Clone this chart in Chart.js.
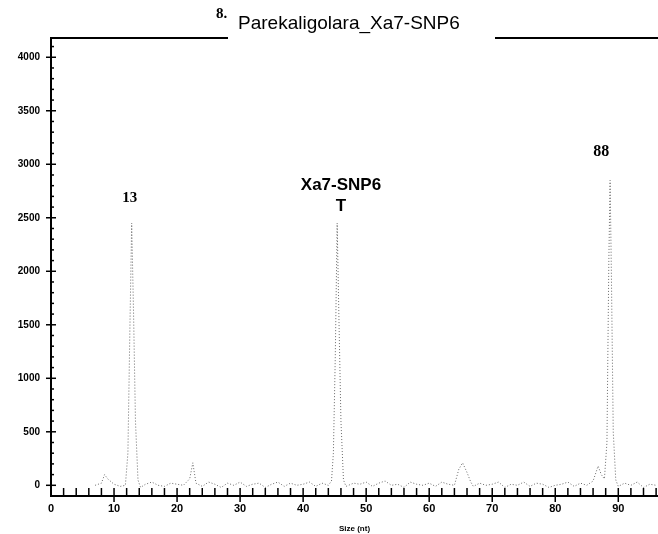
<!DOCTYPE html>
<html><head><meta charset="utf-8">
<script src="https://cdn.jsdelivr.net/npm/chart.js@4.4.0/dist/chart.umd.min.js"></script>
<style>html,body{margin:0;padding:0;background:#fff}#wrap{width:658px;height:534px;position:relative}</style>
</head><body><div id="wrap"><canvas id="c" width="658" height="534"></canvas></div>
<script>
const chartTitle = "Parekaligolara_Xa7-SNP6";
const laneLabel = "8.";
const xTitle = "Size (nt)";
const sizes = [7,8,8.5,9,10,11,11.8,12.2,12.5,12.8,13.1,13.4,13.8,14.2,15,16,17,18,19,20,21,22,22.5,23,24,25,26,27,28,29,30,31,32,33,34,35,36,37,38,39,40,41,42,43,44,44.5,44.8,45.1,45.4,45.7,46.0,46.4,46.8,48,49,50,51,52,53,54,55,56,57,58,59,60,61,62,63,64,64.7,65.3,66,66.6,67,68,69,70,71,72,73,74,75,76,77,78,79,80,81,82,83,84,85,86,86.8,87.3,87.8,88.2,88.5,88.7,88.9,89.2,89.6,90,91,92,93,94,95,96];
const rfu =   [0,20,100,60,10,-10,0,300,1400,2450,1600,600,50,-20,10,30,0,-10,20,10,0,60,210,20,-10,30,10,-20,20,0,30,-10,10,20,-20,10,30,-10,20,0,10,30,-10,20,0,40,300,1200,2450,1500,600,50,-10,20,10,30,-10,20,40,0,10,-20,30,10,0,20,-10,30,10,0,150,210,120,30,-10,20,0,10,30,-20,10,0,30,-10,20,10,-20,0,10,30,-10,20,0,40,180,100,60,400,2100,2850,2000,500,50,-10,20,0,30,-20,10,0];
const yTicks = [0,500,1000,1500,2000,2500,3000,3500,4000];
const xTicks = [0,10,20,30,40,50,60,70,80,90];
const peakLabels = [
  {x: 12.5, y: 2680, text: "13", font: "bold 15px 'Liberation Serif'"},
  {x: 46.0, y: 2800, text: "Xa7-SNP6", font: "bold 17px 'Liberation Sans'"},
  {x: 46.0, y: 2610, text: "T", font: "bold 17px 'Liberation Sans'"},
  {x: 87.3, y: 3115, text: "88", font: "bold 16px 'Liberation Serif'"}
];

const decor = {
  id: 'decor',
  afterDraw(chart) {
    const ctx = chart.ctx, xs = chart.scales.x, ys = chart.scales.y, a = chart.chartArea;
    ctx.save();
    ctx.strokeStyle = '#000'; ctx.fillStyle = '#000';
    ctx.lineWidth = 2;
    ctx.beginPath(); ctx.moveTo(a.left, a.top); ctx.lineTo(228, a.top);
    ctx.moveTo(495, a.top); ctx.lineTo(658, a.top); ctx.stroke();
    ctx.font = "19px 'Liberation Sans'"; ctx.textAlign = 'left'; ctx.textBaseline = 'middle';
    ctx.fillText(chartTitle, 238, 24);
    ctx.font = "bold 15px 'Liberation Serif'";
    ctx.fillText(laneLabel, 216, 14);
    ctx.lineWidth = 1.5;
    for (let v = -100; v <= 4100; v += 100) {
      const py = ys.getPixelForValue(v);
      const major = v % 500 === 0;
      ctx.beginPath();
      ctx.moveTo(a.left - (major ? 5 : 0), py); ctx.lineTo(a.left + (major ? 5 : 3), py); ctx.stroke();
    }
    for (let v = 2; v <= 96; v += 2) {
      const px = xs.getPixelForValue(v);
      const major = v % 10 === 0;
      ctx.beginPath();
      ctx.moveTo(px, a.bottom - 8); ctx.lineTo(px, a.bottom + (major ? 6 : 0)); ctx.stroke();
    }
    ctx.textAlign = 'center';
    peakLabels.forEach(p => {
      ctx.font = p.font;
      ctx.fillText(p.text, xs.getPixelForValue(p.x), ys.getPixelForValue(p.y));
    });
    ctx.restore();
  }
};

new Chart(document.getElementById('c'), {
  type: 'line',
  data: { datasets: [{
    data: sizes.map((s, i) => ({x: s, y: rfu[i]})),
    borderColor: 'rgba(80,80,80,0.85)', borderWidth: 1, borderDash: [1, 2],
    pointRadius: 0, tension: 0, fill: false
  }]},
  options: {
    responsive: false, animation: false,
    layout: { padding: { top: 38, right: 0, left: 0, bottom: 0 } },
    plugins: { legend: { display: false }, tooltip: { enabled: false } },
    scales: {
      x: {
        type: 'linear', min: 0, max: 96.3,
        afterBuildTicks: s => { s.ticks = xTicks.map(v => ({value: v})); },
        afterFit: s => { s.height = 38; },
        grid: { display: false, drawTicks: false },
        border: { color: '#000', width: 2 },
        ticks: { color: '#000', font: { family: 'Liberation Sans', size: 11, weight: 'bold' }, padding: 6, maxRotation: 0, callback: v => String(v) },
        title: { display: true, text: xTitle, color: '#000', font: { family: 'Liberation Sans', size: 8, weight: 'bold' }, padding: { top: 0, bottom: 0 } }
      },
      y: {
        type: 'linear', min: -100, max: 4180,
        afterBuildTicks: s => { s.ticks = yTicks.map(v => ({value: v})); },
        afterFit: s => { s.width = 51; },
        grid: { display: false, drawTicks: false },
        border: { color: '#000', width: 2 },
        ticks: { color: '#000', font: { family: 'Liberation Sans', size: 10, weight: 'bold' }, padding: 11, callback: v => String(v) }
      }
    }
  },
  plugins: [decor]
});
</script></body></html>
